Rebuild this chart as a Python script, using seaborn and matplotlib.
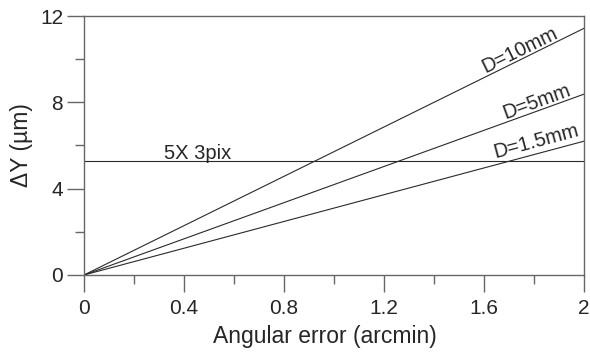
import numpy as np
import pandas as pd
import matplotlib
matplotlib.use("Agg")
import matplotlib.pyplot as plt
import seaborn as sns
from matplotlib.ticker import MultipleLocator

# Data
x_vals = [0.0, 2.0]
d10 = [0.0, 11.43]
d5 = [0.0, 8.38]
d15 = [0.0, 6.2]
threshold = 5.3
series_names = ["D=10mm", "D=5mm", "D=1.5mm"]

sns.set_style("white")
plt.rcParams['font.family'] = ['Liberation Sans', 'DejaVu Sans']

df = pd.DataFrame({
    "x": x_vals * 3,
    "y": d10 + d5 + d15,
    "series": [series_names[0]] * 2 + [series_names[1]] * 2 + [series_names[2]] * 2,
})

fig = plt.figure(figsize=(5.9, 3.54), dpi=100)
ax = fig.add_axes([0.1424, 0.2232, 0.8475, 0.7316])

sns.lineplot(data=df, x="x", y="y", hue="series", palette=["#2a2a2a"] * 3,
             linewidth=0.8, legend=False, ax=ax)
ax.axhline(threshold, color="#2a2a2a", linewidth=0.8)

ax.set_xlim(0, 2)
ax.set_ylim(0, 12)
ax.xaxis.set_major_locator(MultipleLocator(0.4))
ax.xaxis.set_minor_locator(MultipleLocator(0.2))
ax.yaxis.set_major_locator(MultipleLocator(4))
ax.yaxis.set_minor_locator(MultipleLocator(2))
ax.xaxis.set_major_formatter(plt.FuncFormatter(lambda v, p: f"{v:g}"))
ax.yaxis.set_major_formatter(plt.FuncFormatter(lambda v, p: f"{v:g}"))

spine_col = "#666666"
for s in ax.spines.values():
    s.set_color(spine_col)
    s.set_linewidth(1.0)
ax.tick_params(which="major", direction="out", length=12, width=1.0, color=spine_col,
               labelsize=15, bottom=True, left=True)
ax.tick_params(which="minor", direction="out", length=6.5, width=1.0, color=spine_col,
               bottom=True, left=True)
ax.tick_params(axis="x", which="major", pad=5)
ax.tick_params(axis="y", which="major", pad=3)

ax.set_xlabel("Angular error (arcmin)", fontsize=16.5)
ax.xaxis.set_label_coords(0.482, -0.195)
ax.set_ylabel("ΔY (µm)", fontsize=16.5, labelpad=5)

ax.text(0.456, 5.65, "5X 3pix", fontsize=14.5, ha="center", va="center")
ax.text(1.744, 10.4, series_names[0], fontsize=14.5, ha="center", va="center", rotation=26)
ax.text(1.81, 8.05, series_names[1], fontsize=14.5, ha="center", va="center", rotation=20)
ax.text(1.81, 6.2, series_names[2], fontsize=14.5, ha="center", va="center", rotation=15)

fig.savefig("out.png", dpi=100)
